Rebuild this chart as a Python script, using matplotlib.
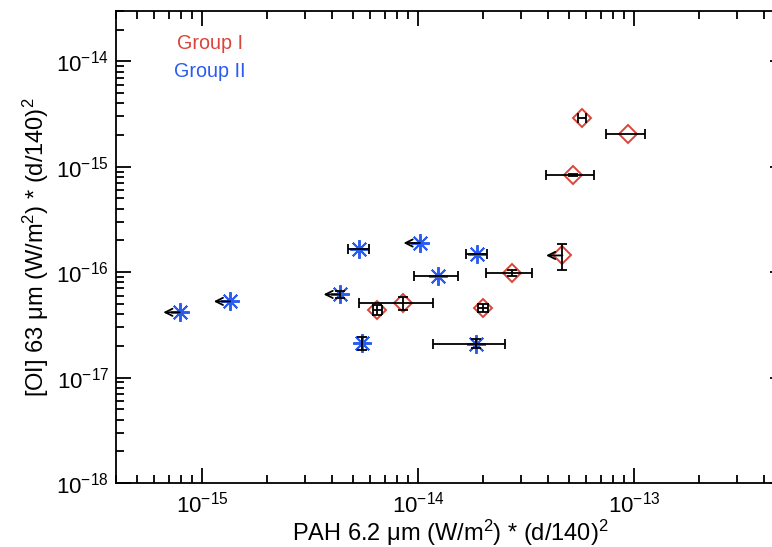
import matplotlib
matplotlib.use("Agg")
import matplotlib.pyplot as plt
from matplotlib.ticker import LogLocator, NullFormatter

plt.rcParams['font.family'] = ['Liberation Sans', 'DejaVu Sans']
plt.rcParams['mathtext.fontset'] = 'custom'
plt.rcParams['mathtext.rm'] = 'Liberation Sans'
plt.rcParams['mathtext.it'] = 'Liberation Sans'
plt.rcParams['mathtext.default'] = 'regular'

red = '#d9453a'
blue = '#2b5cf0'

# Group I (diamonds)
g1_pah = [5.77e-14, 9.35e-14, 5.21e-14, 4.66e-14, 2.72e-14, 2.00e-14, 8.55e-15, 6.49e-15]
g1_pah_err = [2.5e-15, 1.9e-14, 1.3e-14, 0.0, 6.5e-15, 1.0e-15, 3.2e-15, 3.0e-16]
g1_oi = [2.88e-15, 2.03e-15, 8.34e-16, 1.44e-16, 9.81e-17, 4.60e-17, 5.09e-17, 4.41e-17]
g1_oi_err = [0.0, 0.0, 1.5e-17, 4.0e-17, 6.0e-18, 4.0e-18, 7.5e-18, 5.0e-18]
g1_uplim = [False, False, False, True, False, False, False, False]

# Group II (asterisks)
g2_pah = [7.88e-16, 1.35e-15, 4.35e-15, 5.33e-15, 5.52e-15, 1.02e-14, 1.24e-14, 1.88e-14, 1.85e-14]
g2_pah_err = [0.0, 0.0, 0.0, 6.0e-16, 0.0, 0.0, 2.85e-15, 2.1e-15, 6.8e-15]
g2_oi = [4.16e-17, 5.28e-17, 6.15e-17, 1.67e-16, 2.14e-17, 1.89e-16, 9.12e-17, 1.50e-16, 2.10e-17]
g2_oi_err = [0.0, 0.0, 5.0e-18, 0.0, 3.0e-18, 0.0, 0.0, 0.0, 2.0e-18]
g2_uplim = [True, True, True, False, False, True, False, False, False]

fig = plt.figure(figsize=(7.72, 5.47), dpi=100)
ax = fig.add_axes([0.1503, 0.117, 0.8666, 0.8629])
ax.set_xscale('log')
ax.set_yscale('log')
ax.set_xlim(4e-16, 5e-13)
ax.set_ylim(1e-18, 3e-14)

# markers
ax.plot(g1_pah, g1_oi, linestyle='none', marker='D', ms=9, mfc='none',
        mec=red, mew=1.4, zorder=2)
ax.plot(g2_pah, g2_oi, linestyle='none', marker=(8, 2, 0), ms=13.5,
        mec=blue, mew=1.4, zorder=3)

# error bars
for px, pe, oy, oe in zip(g1_pah + g2_pah, g1_pah_err + g2_pah_err,
                          g1_oi + g2_oi, g1_oi_err + g2_oi_err):
    if pe > 0:
        ax.errorbar(px, oy, xerr=pe, fmt='none', ecolor='black', elinewidth=1.3,
                    capsize=3.5, capthick=1.3, zorder=4)
    if oe > 0:
        ax.errorbar(px, oy, yerr=oe, fmt='none', ecolor='black', elinewidth=1.3,
                    capsize=3.5, capthick=1.3, zorder=4)

# upper limit arrows in PAH
for px, oy, up in zip(g1_pah + g2_pah, g1_oi + g2_oi, g1_uplim + g2_uplim):
    if up:
        ax.annotate('', xy=(px * 0.84, oy), xytext=(px, oy),
                    arrowprops=dict(arrowstyle='->', color='black', lw=1.3,
                                    shrinkA=0, shrinkB=0,
                                    mutation_scale=13), zorder=4)

ax.text(0.1405, 0.932, 'Group I', color=red, fontsize=14.2, transform=ax.transAxes,
        ha='center', va='center')
ax.text(0.1405, 0.871, 'Group II', color=blue, fontsize=14.2, transform=ax.transAxes,
        ha='center', va='center')

ax.set_xlabel(r'PAH 6.2 $\mu$m (W/m$^2$) * (d/140)$^2$', fontsize=17)
ax.set_ylabel(r'[OI] 63 $\mu$m (W/m$^2$) * (d/140)$^2$', fontsize=17, labelpad=4)
ax.xaxis.set_label_coords(0.5, -0.073)

ax.xaxis.set_major_locator(LogLocator(base=10, numticks=20))
ax.yaxis.set_major_locator(LogLocator(base=10, numticks=20))
ax.xaxis.set_minor_locator(LogLocator(base=10, subs=range(2, 10), numticks=20))
ax.yaxis.set_minor_locator(LogLocator(base=10, subs=range(2, 10), numticks=20))
ax.xaxis.set_minor_formatter(NullFormatter())
ax.yaxis.set_minor_formatter(NullFormatter())
ax.tick_params(which='both', direction='in', top=True, right=True, width=1.3,
               labelsize=16)
ax.tick_params(axis='x', pad=6)
ax.tick_params(axis='y', pad=5)
ax.tick_params(which='major', length=11)
ax.tick_params(which='minor', length=6)
for s in ax.spines.values():
    s.set_linewidth(1.3)

fig.savefig('out.png', dpi=100)
